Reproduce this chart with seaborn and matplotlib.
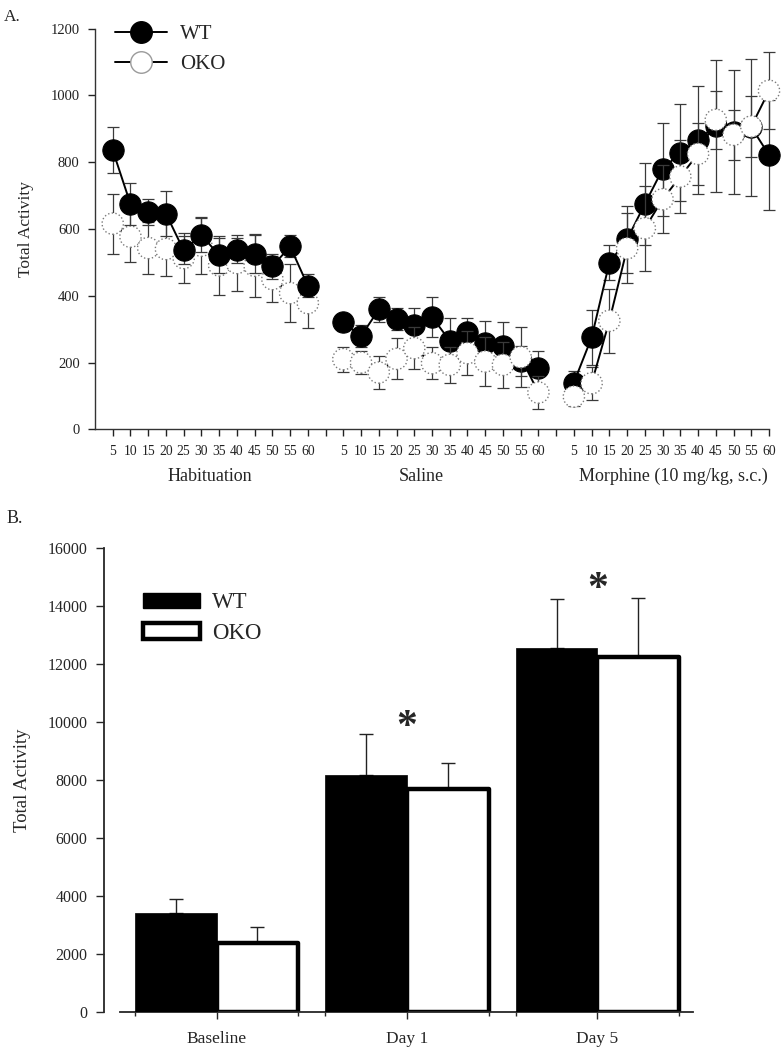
import numpy as np
import pandas as pd
import matplotlib
matplotlib.use("Agg")
import matplotlib.pyplot as plt
import matplotlib.transforms as mtransforms
from matplotlib.lines import Line2D
from matplotlib.patches import Patch
import seaborn as sns

# ---- data: panel A (5-min bins, total activity, mean +/- SEM) ----
bins = [5, 10, 15, 20, 25, 30, 35, 40, 45, 50, 55, 60]
phases = ["Habituation", "Saline", "Morphine (10 mg/kg, s.c.)"]

wt_hab = [836, 675, 652, 646, 536, 582, 521, 536, 525, 488, 548, 430]
wt_hab_sem = [69, 63, 39, 67, 42, 51, 52, 37, 58, 38, 33, 35]
oko_hab = [616, 577, 543, 540, 513, 550, 491, 498, 490, 450, 408, 378]
oko_hab_sem = [90, 76, 78, 80, 74, 85, 89, 83, 95, 69, 88, 75]

wt_sal = [320, 279, 359, 331, 311, 337, 265, 292, 259, 249, 205, 183]
wt_sal_sem = [25, 33, 38, 33, 51, 60, 67, 40, 66, 73, 45, 51]
oko_sal = [210, 200, 170, 211, 243, 198, 193, 228, 203, 193, 216, 110]
oko_sal_sem = [38, 34, 50, 61, 62, 48, 53, 65, 72, 70, 90, 49]

wt_mor = [140, 275, 499, 569, 675, 779, 829, 867, 909, 890, 905, 822]
wt_mor_sem = [35, 82, 53, 100, 122, 140, 146, 161, 197, 185, 205, 165]
oko_mor = [98, 138, 325, 542, 602, 689, 757, 825, 927, 882, 907, 1014]
oko_mor_sem = [28, 50, 95, 105, 127, 102, 110, 92, 86, 75, 90, 115]

# ---- data: panel B ----
days = ["Baseline", "Day 1", "Day 5"]
wt_total = [3395, 8175, 12550]
wt_total_sem = [485, 1400, 1700]
oko_total = [2375, 7680, 12260]
oko_total_sem = [560, 900, 2015]
star_days = ["Day 1", "Day 5"]
star_y = [10130, 14910]

sns.set_style("ticks")
plt.rcParams["font.family"] = ["Liberation Serif", "DejaVu Serif"]
plt.rcParams["axes.linewidth"] = 1.0

# long table for panel A, one gap slot between phases
wt_means = [wt_hab, wt_sal, wt_mor]
wt_sems = [wt_hab_sem, wt_sal_sem, wt_mor_sem]
oko_means = [oko_hab, oko_sal, oko_mor]
oko_sems = [oko_hab_sem, oko_sal_sem, oko_mor_sem]
rows = []
for k, ph in enumerate(phases):
    for i, b in enumerate(bins):
        pos = k * (len(bins) + 1) + i
        rows.append(dict(pos=pos, bin=b, phase=ph, genotype="WT",
                         value=wt_means[k][i], err=wt_sems[k][i]))
        rows.append(dict(pos=pos, bin=b, phase=ph, genotype="OKO",
                         value=oko_means[k][i], err=oko_sems[k][i]))
dfA = pd.DataFrame(rows)

fig = plt.figure(figsize=(7.84, 10.5), dpi=100)
axA = fig.add_axes([95 / 784, 1 - 429.3 / 1050, 674 / 784, 400.6 / 1050])
axB = fig.add_axes([104.3 / 784, 1 - 1011.7 / 1050, 588.4 / 784, 463.4 / 1050])

errc = "#3a3a3a"
msize = 235
for k, ph in enumerate(phases):
    # WT on top during habituation, OKO on top afterwards
    top = "WT" if k == 0 else "OKO"
    for g in ["WT", "OKO"]:
        sub = dfA[(dfA.phase == ph) & (dfA.genotype == g)]
        zbase = 4 if g == top else 2
        eb = axA.errorbar(sub["pos"], sub["value"], yerr=sub["err"], fmt="none",
                          ecolor=errc, elinewidth=0.9, capsize=4, capthick=0.9,
                          zorder=zbase - 1)
        for art in eb.lines[1] + eb.lines[2]:
            art.set_clip_on(False)
        sns.lineplot(data=sub, x="pos", y="value", color="black", linewidth=1.4,
                     ax=axA, zorder=zbase - 0.5, legend=False, clip_on=False)
        if g == "WT":
            sns.scatterplot(data=sub, x="pos", y="value", color="black", s=msize,
                            edgecolor="black", linewidth=0.8, ax=axA, zorder=zbase,
                            legend=False, clip_on=False)
        else:
            sns.scatterplot(data=sub, x="pos", y="value", color="white", s=msize,
                            edgecolor="#7a7a7a", linewidth=1.0, linestyle=":",
                            ax=axA, zorder=zbase, legend=False, clip_on=False)

nslots = len(phases) * (len(bins) + 1)
tick_pos = np.arange(nslots)
tick_lab = [str(bins[p % (len(bins) + 1)]) if p % (len(bins) + 1) < len(bins) else ""
            for p in tick_pos]
axA.set_xticks(tick_pos)
axA.set_xticklabels(tick_lab, fontsize=9.8)
axA.set_xlim(-1, nslots - 2)
axA.set_ylim(0, 1200)
axA.set_yticks(np.arange(0, 1201, 200))
axA.tick_params(axis="y", labelsize=10.5, length=5, width=1, pad=6, colors="#222222")
axA.tick_params(axis="x", length=5, width=1, pad=6, colors="#222222")
axA.set_xlabel("")
axA.set_ylabel("Total Activity", fontsize=12.5, labelpad=12)
for s in ["top", "right"]:
    axA.spines[s].set_visible(False)
for s in ["left", "bottom"]:
    axA.spines[s].set_color("#333333")

trans = mtransforms.blended_transform_factory(axA.transData, axA.transAxes)
label_x = [5.5, 17.4, 31.6]
for ph, lx in zip(phases, label_x):
    axA.text(lx, -0.117, ph, transform=trans, ha="center", va="center", fontsize=13)

hA = [Line2D([0], [0], color="black", lw=1.4, marker="o", markersize=15.5,
             markerfacecolor="black", markeredgecolor="black"),
      Line2D([0], [0], color="black", lw=1.4, marker="o", markersize=15.5,
             markerfacecolor="white", markeredgecolor="#9a9a9a")]
axA.legend(hA, ["WT", "OKO"], loc="upper left", bbox_to_anchor=(0.03, 1.01),
           frameon=False, fontsize=15, handlelength=2.5, handletextpad=0.6,
           labelspacing=0.5, borderpad=0, borderaxespad=0)

# ---- panel B ----
dfB = pd.DataFrame({
    "day": days * 2,
    "genotype": ["WT"] * len(days) + ["OKO"] * len(days),
    "value": wt_total + oko_total,
    "err": wt_total_sem + oko_total_sem,
})
sns.barplot(data=dfB, x="day", y="value", hue="genotype", order=days,
            hue_order=["WT", "OKO"], palette={"WT": "black", "OKO": "white"},
            width=0.857, edgecolor="black", errorbar=None, ax=axB, legend=False)

bars = axB.patches
nb = len(days)
edges = []
for i, p in enumerate(bars[:2 * nb]):
    g = "WT" if i < nb else "OKO"
    p.set_linewidth(0.5 if g == "WT" else 3.2)
    p.set_joinstyle("round")
    p.set_zorder(3 if g == "WT" else 2)
    xc = p.get_x() + p.get_width() / 2
    e = dfB.loc[i, "err"]
    axB.errorbar([xc], [p.get_height()], yerr=[[0], [e]], fmt="none",
                 ecolor="#222222", elinewidth=1.0, capsize=5, capthick=1.0,
                 zorder=1)
    edges.append(p.get_x() if g == "WT" else p.get_x() + p.get_width())

for d, sy in zip(star_days, star_y):
    axB.annotate("*", xy=(days.index(d), sy), xytext=(0, -7),
                 textcoords="offset points", ha="center", va="center",
                 fontsize=30, fontweight="bold")

axB.set_ylim(0, 16000)
axB.set_yticks(np.arange(0, 16001, 2000))
axB.set_xlim(-0.59, 2.5)
axB.spines["bottom"].set_bounds(-0.51, 2.5)
axB.set_xticks(edges, minor=True)
axB.tick_params(axis="x", which="minor", length=3, width=1)
axB.tick_params(axis="x", which="major", length=5, width=1, labelsize=12.5, pad=9)
axB.tick_params(axis="y", length=6, width=1, labelsize=11.5, pad=6)
axB.set_xlabel("")
axB.set_ylabel("Total Activity", fontsize=13.5, labelpad=12)
for s in ["top", "right"]:
    axB.spines[s].set_visible(False)
axB.spines["left"].set_linewidth(1.3)
axB.spines["bottom"].set_linewidth(1.3)

hB = [Patch(facecolor="black", edgecolor="black", linewidth=1),
      Patch(facecolor="white", edgecolor="black", linewidth=3.2)]
axB.legend(hB, ["WT", "OKO"], loc="upper left", bbox_to_anchor=(0.065, 0.905),
           frameon=False, fontsize=16.5, handlelength=2.5, handleheight=0.65,
           handletextpad=0.55, labelspacing=0.42, borderpad=0, borderaxespad=0)

fig.text(4 / 784, 1 - 17 / 1050, "A.", fontsize=12.5, va="center", ha="left")
fig.text(7 / 784, 1 - 519 / 1050, "B.", fontsize=13, va="center", ha="left")

fig.savefig("out.png", dpi=100)
